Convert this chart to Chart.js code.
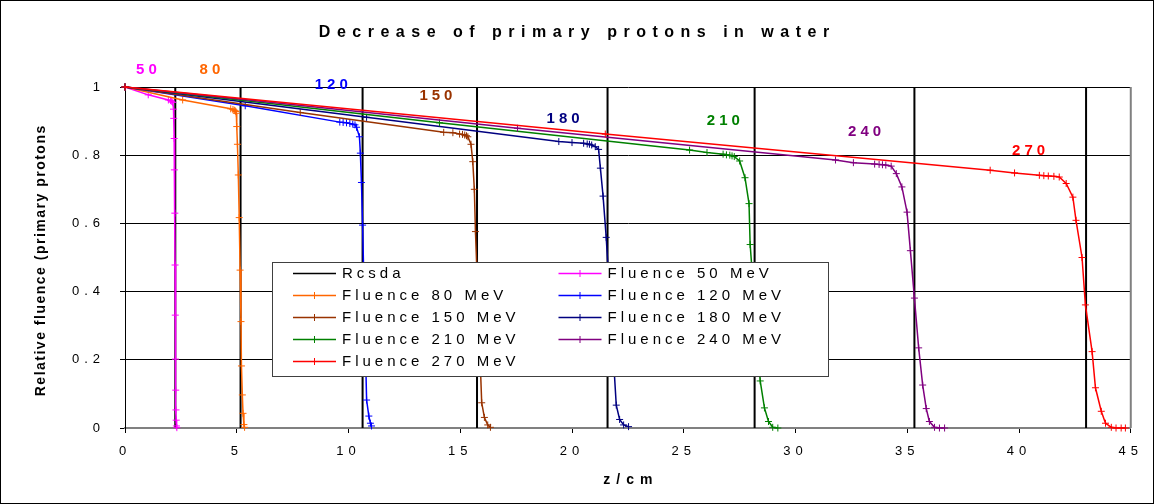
<!DOCTYPE html>
<html>
<head>
<meta charset="utf-8">
<script src="https://cdn.jsdelivr.net/npm/chart.js@4/dist/chart.umd.min.js"></script>
<style>
    html, body { margin: 0; padding: 0; background: #fff; }
    #wrap { width: 1154px; height: 504px; }
</style>
</head>
<body>
<div id="wrap"><canvas id="myChart"></canvas></div>
<script>
// depth z (cm) and relative fluence of primary protons, one pair per energy
var z50 = [0, 1.04, 1.94, 2.04, 2.09, 2.14, 2.17, 2.18, 2.2, 2.21, 2.23, 2.24, 2.25, 2.26, 2.27, 2.28, 2.29, 2.30, 2.32];
var f50 = [1, 0.977, 0.962, 0.96, 0.958, 0.955, 0.935, 0.908, 0.849, 0.757, 0.63, 0.478, 0.331, 0.202, 0.111, 0.053, 0.023, 0.006, 0.001];

var z80 = [0, 2.58, 4.73, 4.83, 4.89, 4.93, 4.96, 4.98, 5.0, 5.03, 5.07, 5.11, 5.15, 5.19, 5.21, 5.25, 5.28, 5.32, 5.35];
var f80 = [1, 0.962, 0.936, 0.934, 0.932, 0.93, 0.928, 0.923, 0.884, 0.832, 0.742, 0.617, 0.463, 0.312, 0.182, 0.097, 0.043, 0.01, 0.002];

var z120 = [0, 5.38, 9.61, 9.76, 9.91, 10.06, 10.19, 10.29, 10.36, 10.49, 10.53, 10.58, 10.63, 10.81, 10.91, 10.98, 11.03];
var f120 = [1, 0.945, 0.897, 0.896, 0.895, 0.893, 0.891, 0.889, 0.882, 0.854, 0.806, 0.72, 0.595, 0.082, 0.035, 0.014, 0.006];

var z150 = [0, 7.84, 14.26, 14.67, 14.97, 15.1, 15.2, 15.28, 15.34, 15.48, 15.56, 15.63, 15.68, 15.96, 16.08, 16.23, 16.35];
var f150 = [1, 0.925, 0.867, 0.866, 0.862, 0.861, 0.859, 0.857, 0.854, 0.832, 0.781, 0.70, 0.576, 0.074, 0.031, 0.009, 0.002];

var z180 = [0, 10.81, 19.41, 20.0, 20.52, 20.68, 20.78, 20.88, 21.04, 21.19, 21.27, 21.39, 21.53, 21.98, 22.13, 22.31, 22.53];
var f180 = [1, 0.911, 0.84, 0.837, 0.835, 0.833, 0.832, 0.83, 0.825, 0.817, 0.762, 0.68, 0.559, 0.067, 0.025, 0.009, 0.004];

var z210 = [0, 14.07, 25.26, 26.04, 26.76, 26.91, 27.06, 27.16, 27.26, 27.5, 27.74, 27.92, 27.97, 28.42, 28.61, 28.79, 28.98, 29.21];
var f210 = [1, 0.895, 0.815, 0.808, 0.803, 0.801, 0.8, 0.798, 0.796, 0.783, 0.734, 0.658, 0.538, 0.138, 0.059, 0.019, 0.002, 0];

var z240 = [0, 17.56, 31.79, 32.59, 33.54, 33.74, 33.89, 34.04, 34.28, 34.51, 34.76, 34.99, 35.14, 35.32, 35.51, 35.69, 35.85, 35.99, 36.22, 36.44, 36.67];
var f240 = [1, 0.879, 0.786, 0.778, 0.774, 0.773, 0.772, 0.771, 0.768, 0.746, 0.707, 0.633, 0.52, 0.381, 0.235, 0.126, 0.057, 0.019, 0.002, 0, 0];

var z270 = [0, 21.49, 38.71, 39.8, 40.91, 41.11, 41.31, 41.56, 41.8, 42.11, 42.41, 42.55, 42.82, 42.97, 43.27, 43.42, 43.68, 43.87, 44.13, 44.34, 44.57, 44.76];
var f270 = [1, 0.862, 0.756, 0.748, 0.741, 0.74, 0.739, 0.738, 0.736, 0.717, 0.677, 0.609, 0.5, 0.361, 0.224, 0.118, 0.049, 0.014, 0.002, 0, 0, 0];

// csda ranges (cm), drawn as vertical lines
var rcsda = [2.25, 5.17, 10.63, 15.75, 21.59, 28.17, 35.32, 43.0];

// energy annotations (MeV) and where they sit in data units
var energies = ['50', '80', '120', '150', '180', '210', '240', '270'];
var labelZ = [0.96, 3.8, 9.23, 13.91, 19.6, 26.77, 33.09, 40.43];
var labelF = [1.05, 1.05, 1.006, 0.974, 0.906, 0.9, 0.868, 0.812];

var xMax = 45, xStep = 5;
var yMax = 1, yStep = 0.2;

var colors = ['#FF00FF', '#FF6600', '#0000FF', '#993300', '#000080', '#008000', '#800080', '#FF0000'];

function pts(z, f) {
    return z.map(function (v, i) { return { x: v, y: f[i] }; });
}

var rcsdaPts = [];
rcsda.forEach(function (r) {
    rcsdaPts.push({ x: r, y: 0 }, { x: r, y: yMax }, { x: r, y: null });
});

var curves = [
    ['Fluence 50 MeV', z50, f50],
    ['Fluence 80 MeV', z80, f80],
    ['Fluence 120 MeV', z120, f120],
    ['Fluence 150 MeV', z150, f150],
    ['Fluence 180 MeV', z180, f180],
    ['Fluence 210 MeV', z210, f210],
    ['Fluence 240 MeV', z240, f240],
    ['Fluence 270 MeV', z270, f270]
];

var datasets = [{
    label: 'Rcsda',
    data: rcsdaPts,
    borderColor: '#000',
    borderWidth: 2,
    pointRadius: 0,
    spanGaps: false,
    order: 10
}];
curves.forEach(function (c, i) {
    datasets.push({
        label: c[0],
        data: pts(c[1], c[2]),
        borderColor: colors[i],
        backgroundColor: colors[i],
        borderWidth: 1.5,
        pointStyle: 'cross',
        pointRadius: 3.5,
        pointBorderWidth: 1,
        pointBorderColor: colors[i],
        order: 8 - i
    });
});

var spaced = '5px';

var decorations = {
    id: 'decorations',
    beforeUpdate: function (chart) { chart.ctx.letterSpacing = spaced; },
    beforeDraw: function (chart) {
        var ctx = chart.ctx;
        ctx.letterSpacing = spaced;
        ctx.save();
        ctx.fillStyle = '#fff';
        ctx.fillRect(0, 0, chart.width, chart.height);
        ctx.restore();
    },
    afterDraw: function (chart) {
        var ctx = chart.ctx;
        var xs = chart.scales.x, ys = chart.scales.y;
        var area = chart.chartArea;
        ctx.save();

        // right edge of the plot area
        ctx.strokeStyle = '#808080';
        ctx.lineWidth = 2;
        ctx.beginPath();
        ctx.moveTo(area.right, area.top);
        ctx.lineTo(area.right, area.bottom);
        ctx.stroke();

        // outer frame
        ctx.strokeStyle = '#000';
        ctx.lineWidth = 1;
        ctx.strokeRect(0.5, 0.5, chart.width - 1, chart.height - 1);

        // title
        ctx.fillStyle = '#000';
        ctx.textBaseline = 'middle';
        ctx.textAlign = 'left';
        ctx.font = 'bold 16px Arial, "Liberation Sans", sans-serif';
        ctx.letterSpacing = '6.5px';
        var t = 'Decrease of primary protons in water';
        var w = ctx.measureText(t).width - 6.5;
        ctx.fillText(t, 574 - w / 2, 33);

        // x title
        ctx.font = 'bold 14px Arial, "Liberation Sans", sans-serif';
        ctx.letterSpacing = '6px';
        t = 'z/cm';
        w = ctx.measureText(t).width - 6;
        ctx.fillText(t, (area.left + area.right) / 2 - w / 2, 480);

        // y title
        ctx.save();
        ctx.translate(41, 261);
        ctx.rotate(-Math.PI / 2);
        ctx.font = 'bold 14px Arial, "Liberation Sans", sans-serif';
        ctx.letterSpacing = '1.5px';
        t = 'Relative fluence (primary protons';
        w = ctx.measureText(t).width - 1.5;
        ctx.fillText(t, -w / 2, 0);
        ctx.restore();

        // energy labels
        ctx.font = 'bold 15px Arial, "Liberation Sans", sans-serif';
        ctx.letterSpacing = '4px';
        energies.forEach(function (e, i) {
            var tw = ctx.measureText(e).width - 4;
            ctx.fillStyle = colors[i];
            ctx.fillText(e, xs.getPixelForValue(labelZ[i]) - tw / 2, ys.getPixelForValue(labelF[i]));
        });

        // legend box
        ctx.fillStyle = '#fff';
        ctx.fillRect(272.5, 262.5, 556, 114);
        ctx.strokeStyle = '#404040';
        ctx.lineWidth = 1;
        ctx.strokeRect(272.5, 262.5, 556, 114);
        ctx.font = '15px Arial, "Liberation Sans", sans-serif';
        ctx.letterSpacing = '4px';
        chart.data.datasets.forEach(function (ds, i) {
            var col = i % 2, row = Math.floor(i / 2);
            var lx = 293 + col * 265.5, ly = 273.5 + row * 22;
            ctx.strokeStyle = ds.borderColor;
            ctx.lineWidth = 1.5;
            ctx.beginPath();
            ctx.moveTo(lx, ly);
            ctx.lineTo(lx + 43, ly);
            ctx.stroke();
            if (i > 0) {
                ctx.lineWidth = 1;
                ctx.beginPath();
                ctx.moveTo(lx + 21.5, ly - 3.5);
                ctx.lineTo(lx + 21.5, ly + 3.5);
                ctx.moveTo(lx + 18, ly);
                ctx.lineTo(lx + 25, ly);
                ctx.stroke();
            }
            ctx.fillStyle = '#000';
            ctx.fillText(ds.label, lx + 49, ly);
        });

        ctx.restore();
    }
};

var ctx = document.getElementById('myChart');
var myChart = new Chart(ctx, {
    type: 'line',
    data: { datasets: datasets },
    options: {
        responsive: true,
        maintainAspectRatio: false,
        animation: false,
        events: [],
        layout: {
            padding: { top: 87, right: 17, bottom: 0, left: 0 }
        },
        elements: {
            line: { tension: 0 }
        },
        datasets: {
            line: { clip: false }
        },
        plugins: {
            legend: { display: false },
            title: { display: false },
            tooltip: { enabled: false }
        },
        scales: {
            x: {
                type: 'linear',
                min: 0,
                max: xMax,
                afterFit: function (scale) { scale.height = 76; },
                ticks: {
                    stepSize: xStep,
                    color: '#000',
                    padding: 11,
                    maxRotation: 0,
                    font: { size: 13, family: 'Arial, "Liberation Sans", sans-serif' }
                },
                grid: {
                    drawOnChartArea: false,
                    tickLength: 5,
                    color: '#000'
                },
                border: { color: '#808080', width: 2 }
            },
            y: {
                type: 'linear',
                min: 0,
                max: yMax,
                afterFit: function (scale) { scale.width = 125; },
                ticks: {
                    stepSize: yStep,
                    color: '#000',
                    padding: 15,
                    callback: function (value) { return String(Number(value.toFixed(1))); },
                    font: { size: 13, family: 'Arial, "Liberation Sans", sans-serif' }
                },
                grid: {
                    color: '#000',
                    tickLength: 5
                },
                border: { color: '#000', width: 1 }
            }
        }
    },
    plugins: [decorations]
});
</script>
</body>
</html>
